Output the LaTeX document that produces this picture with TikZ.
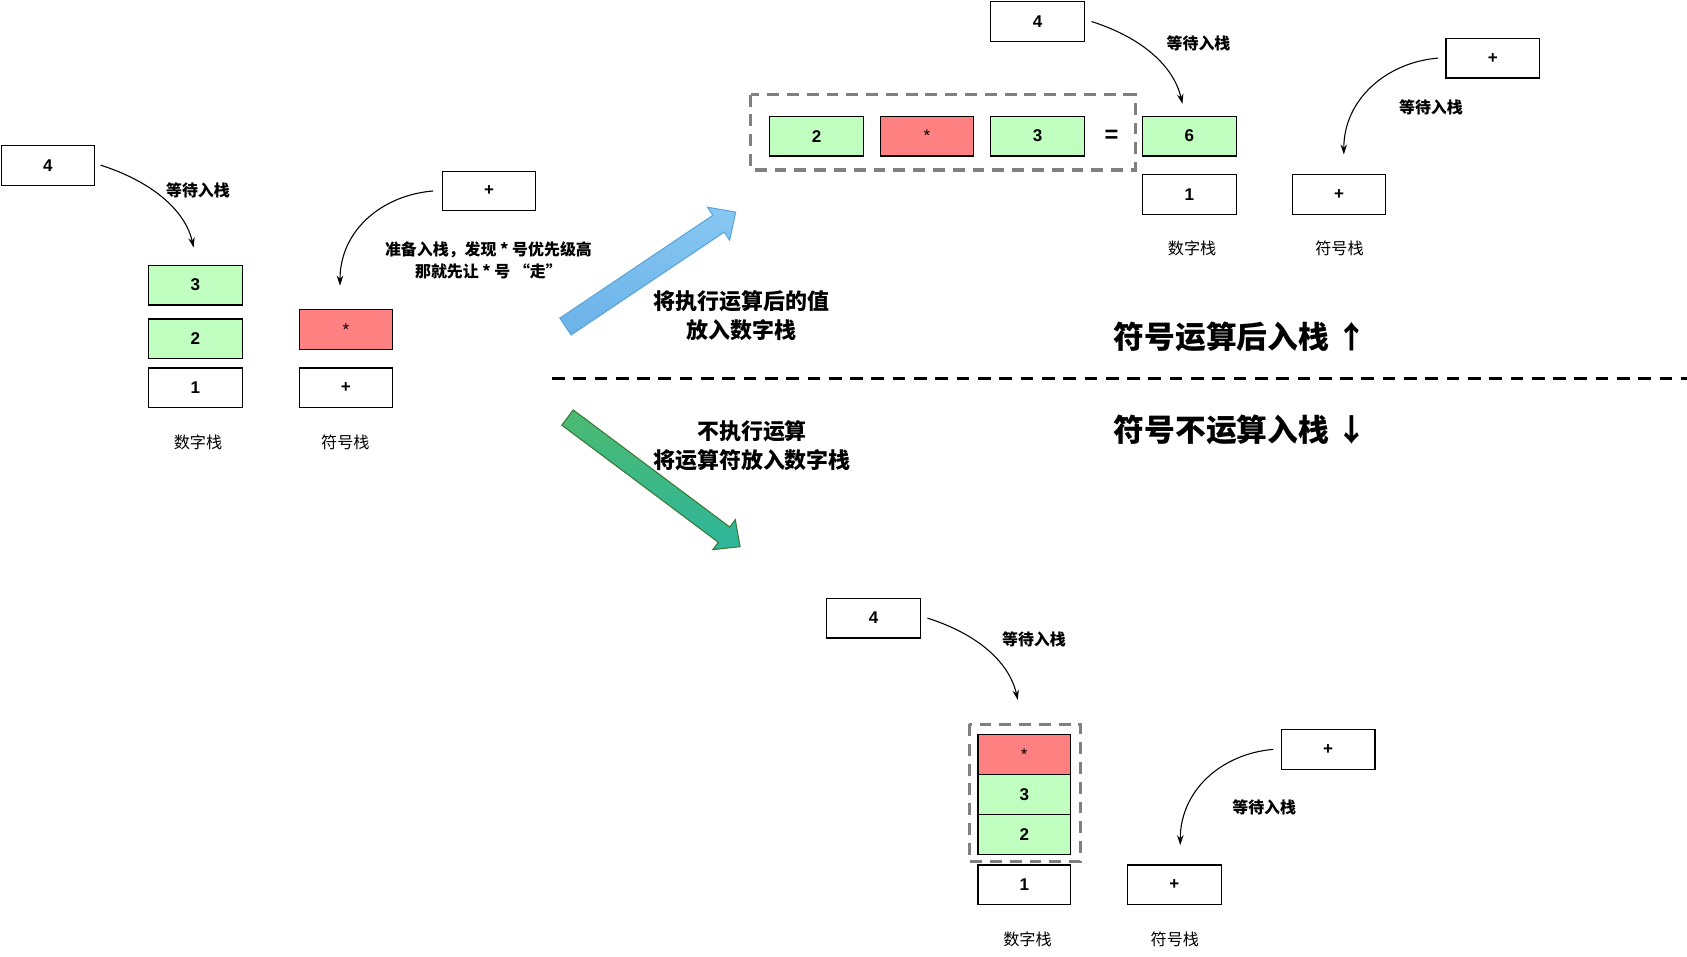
\documentclass[tikz,border=0pt]{standalone}
\usepackage{fontspec}
\setmainfont{Liberation Sans}
\newfontfamily\cjk{Noto Sans CJK SC}
\usepackage{xcolor}
\usetikzlibrary{arrows.meta}
\definecolor{numgreen}{HTML}{C0FFC0}
\definecolor{opred}{HTML}{FF8080}
\definecolor{groupgray}{HTML}{808080}
\definecolor{upblue}{HTML}{88C8F2}
\definecolor{upblued}{HTML}{6BB2E8}
\definecolor{upedge}{HTML}{5AA5DC}
\definecolor{downgreen}{HTML}{4CBA70}
\definecolor{downteal}{HTML}{2EB69C}
\definecolor{downedge}{HTML}{3A7A3A}

\begin{document}
\begin{tikzpicture}[x=0.5pt, y=-0.5pt,
  cell/.style={draw, line width=0.5pt, minimum width=43.5pt, minimum height=18.5pt, inner sep=0pt, font=\fontsize{7.9}{9}\selectfont\bfseries},
  num/.style={cell, fill=numgreen},
  op/.style={cell, fill=opred},
  blank/.style={cell, fill=white},
  wait/.style={font=\cjk\bfseries\fontsize{7.4}{10}\selectfont, align=center},
  caption/.style={font=\cjk\fontsize{7.5}{9}\selectfont},
  push/.style={-{Stealth[length=4.6pt, width=3pt]}, line width=0.5pt},
  group/.style={draw=groupgray, line width=1.4pt, dash pattern=on 5.5pt off 3.7pt},
  divider/.style={line width=1.4pt, dash pattern=on 5.9pt off 4pt},
  note/.style={font=\cjk\bfseries\fontsize{10.2}{13.6}\selectfont, align=center},
  title/.style={font=\cjk\bfseries\fontsize{14.3}{17}\selectfont}
]
\useasboundingbox (0,0) rectangle (1568,889);

\node[blank] (l4) at (44.5,153.5) {4};
\node[num] (l3) at (181.5,265) {3};
\node[num] (l2) at (181.5,315) {2};
\node[blank] (l1) at (181.5,360.5) {1};
\node[op] (lmul) at (321.5,306.5) {\mdseries *};
\node[blank] (lplus) at (321.5,360.5) {+};
\node[blank] (lnext) at (454.5,177.5) {+};
\node[wait] (lwait) at (184,177) {等待入栈};
\node[wait] (lcheck) at (454,242) {准备入栈，发现 * 号优先级高\\那就先让 * 号 “走”};
\node[caption] (lnums) at (184,411) {数字栈};
\node[caption] (lops) at (321,411) {符号栈};
\draw[push] (l4.east) ++(5,0) .. controls +(47,15) and +(-8,-35) .. ([shift={(-1.5,-16)}]l3.north);
\draw[push] (lnext.west) ++(-8,0) .. controls +(-48,4) and +(0,-51) .. ([shift={(-5.5,-22)}]lmul.north);

\begin{scope}[shift={(525.6,303.5)}, rotate=33.9]
  \draw[upedge, line width=0.5pt, top color=upblue, bottom color=upblued]
    (0,9.4) -- (171.4,9.4) -- (171.4,18.45) -- (190.6,0) -- (171.4,-18.45) -- (171.4,-9.4) -- (0,-9.4) -- cycle;
\end{scope}
\begin{scope}[shift={(527.5,388.1)}, rotate=-36.8]
  \draw[downedge, line width=0.5pt, top color=downgreen, bottom color=downteal]
    (0,8.85) -- (181.7,8.85) -- (181.7,17.4) -- (200.3,0) -- (181.7,-17.4) -- (181.7,-8.85) -- (0,-8.85) -- cycle;
\end{scope}
\node[note] (nup) at (689,293.5) {将执行运算后的值\\放入数字栈};
\node[note] (ndown) at (699,414) {不执行运算\\将运算符放入数字栈};

\draw[divider] (513,352) -- (1568,352);
\node[title] (tup) at (1153,313) {符号运算后入栈 ↑};
\node[title] (tdown) at (1153,400) {符号不运算入栈 ↓};

\draw[group] (698,88) rectangle (1055,158);
\node[num] (t2) at (759,126.5) {2};
\node[op] (tmul) at (861.5,126.5) {\mdseries *};
\node[num] (t3) at (964.5,126.5) {3};
\node[font=\fontsize{11}{12}\selectfont\bfseries] (teq) at (1033,127) {=};
\node[num] (t6) at (1105.5,126.5) {6};
\node[blank] (t1) at (1105.5,180.5) {1};
\node[blank] (t4) at (964.5,20) {4};
\node[blank] (tnext) at (1387.5,54) {+};
\node[blank] (tplus) at (1244.5,180.5) {+};
\node[wait] (twait) at (1114,40) {等待入栈};
\node[wait] (twaitop) at (1330,100) {等待入栈};
\node[caption] (tnums) at (1108,231) {数字栈};
\node[caption] (tops) at (1245,231) {符号栈};
\draw[push] (t4.east) ++(6,0) .. controls +(47,15) and +(-8,-35) .. ([shift={(-6.5,-11)}]t6.north);
\draw[push] (tnext.west) ++(-7,0) .. controls +(-48,4) and +(0,-51) .. ([shift={(4.5,-18)}]tplus.north);

\node[blank] (b4) at (812,574.5) {4};
\draw[group] (901,673) rectangle (1004,801);
\node[op, minimum width=43pt] (bmul) at (952,701.5) {\mdseries *};
\node[num, minimum width=43pt] (b3) at (952,738.5) {3};
\node[num, minimum width=43pt] (b2) at (952,775.5) {2};
\node[blank, minimum width=43pt] (b1) at (952,822.5) {1};
\node[blank] (bnext) at (1234.5,696.5) {+};
\node[blank] (bplus) at (1091.5,822.5) {+};
\node[wait] (bwait) at (961,594) {等待入栈};
\node[wait] (bwaitop) at (1175,750) {等待入栈};
\node[caption] (bnums) at (955,873) {数字栈};
\node[caption] (bops) at (1092,873) {符号栈};
\draw[push] (b4.east) ++(6,0) .. controls +(47,15) and +(-8,-35) .. ([shift={(-6,-32)}]bmul.north);
\draw[push] (bnext.west) ++(-7,0) .. controls +(-48,4) and +(0,-51) .. ([shift={(5.5,-18)}]bplus.north);
\end{tikzpicture}
\end{document}
